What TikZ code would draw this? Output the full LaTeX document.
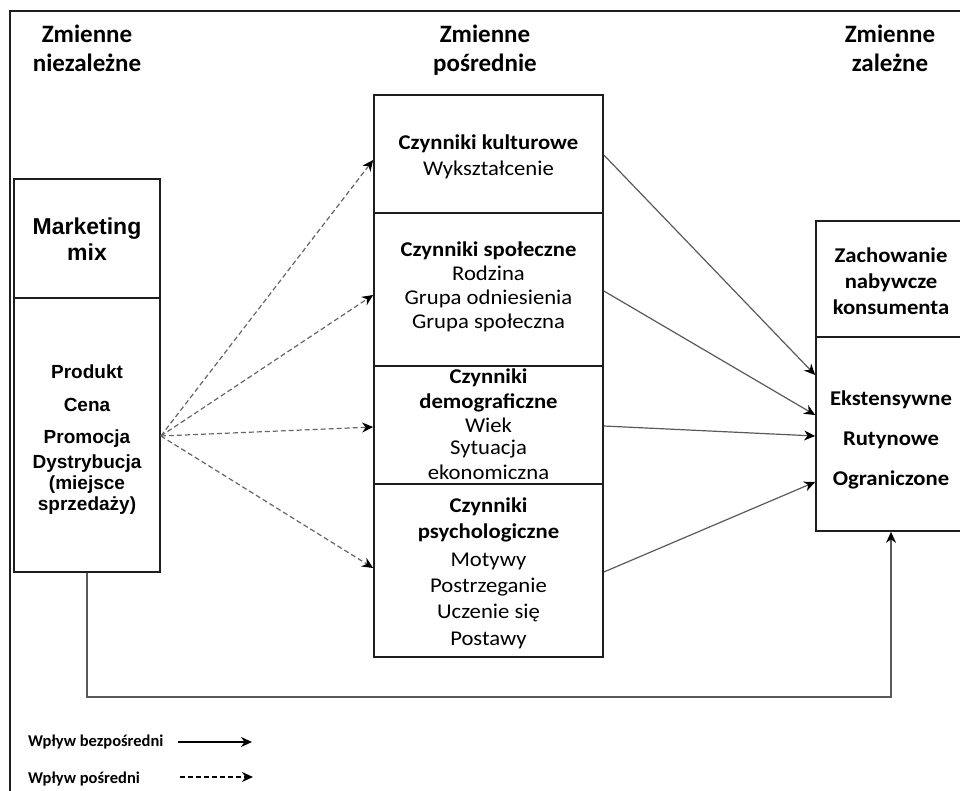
\documentclass[tikz,border=0pt]{standalone}
\usepackage{fontspec}
\setmainfont{Carlito}
\newfontfamily\calw[FakeStretch=1.08]{Carlito}
\newfontfamily\ari{Liberation Sans}
\usetikzlibrary{arrows.meta}
\definecolor{boxc}{HTML}{1E1E1E}
\definecolor{linec}{HTML}{5A5A5A}
\definecolor{dashc}{HTML}{666666}
\begin{document}
\begin{tikzpicture}[x=1pt,y=-1pt,
  box/.style={draw=boxc, line width=1.7pt, rectangle, inner sep=0pt, fill=white},
  tip/.style={-{Stealth[length=11pt,width=10pt,inset=3.5pt,color=black]}},
  conn/.style={draw=linec, line width=1.2pt, tip},
  dconn/.style={draw=dashc, line width=1.2pt, dash pattern=on 5pt off 3pt, tip},
  hd/.style={anchor=base, inner sep=0pt, font=\fontsize{25}{30}\selectfont\bfseries},
  tb/.style={anchor=base, inner sep=0pt, font=\calw\fontsize{21}{25}\selectfont\bfseries},
  tr/.style={anchor=base, inner sep=0pt, font=\calw\fontsize{21}{25}\selectfont},
  ab/.style={anchor=base, inner sep=0pt, font=\ari\fontsize{19}{23}\selectfont\bfseries},
  abig/.style={anchor=base, inner sep=0pt, font=\ari\fontsize{23}{27}\selectfont\bfseries},
  lg/.style={anchor=base west, inner sep=0pt, font=\fontsize{16.5}{19}\selectfont\bfseries}
]
\clip (0,0) rectangle (960,791);
\fill[white] (0,0) rectangle (960,791);
% outer frame
\draw[boxc, line width=1.6pt] (10,795) -- (10,11) -- (965,11);

% headers
\node[hd] (h1a) at (87,43) {Zmienne};
\node[hd] (h1b) at (87,72) {niezależne};
\node[hd] (h2a) at (485,43) {Zmienne};
\node[hd] (h2b) at (485,72) {pośrednie};
\node[hd] (h3a) at (890,43) {Zmienne};
\node[hd] (h3b) at (890,72) {zależne};

% boxes
\node[box, minimum width=146pt, minimum height=119pt] (mixtop) at (87,238.5) {};
\node[box, minimum width=146pt, minimum height=274pt] (mixlow) at (87,435) {};
\node[box, minimum width=229pt, minimum height=118pt] (kult) at (488.5,154) {};
\node[box, minimum width=229pt, minimum height=153pt] (spol) at (488.5,289.5) {};
\node[box, minimum width=229pt, minimum height=118pt] (demo) at (488.5,425) {};
\node[box, minimum width=229pt, minimum height=173pt] (psych) at (488.5,570.5) {};
\node[box, minimum width=150pt, minimum height=116pt] (behtop) at (891,279) {};
\node[box, minimum width=150pt, minimum height=194pt] (behlow) at (891,434) {};

% left box texts
\node[abig] (t1) at (87,235) {Marketing};
\node[abig] (t2) at (87,261) {mix};
\node[ab] (t3) at (87,378) {Produkt};
\node[ab] (t4) at (87,411) {Cena};
\node[ab] (t5) at (87,443) {Promocja};
\node[ab] (t6) at (87,468) {Dystrybucja};
\node[ab] (t7) at (87,489) {(miejsce};
\node[ab] (t8) at (87,510) {sprzedaży)};

% middle texts
\node[tb] (k1) at (488.5,150) {Czynniki kulturowe};
\node[tr] (k2) at (488.5,176) {Wykształcenie};
\node[tb] (s1) at (488.5,257) {Czynniki społeczne};
\node[tr] (s2) at (488.5,281) {Rodzina};
\node[tr] (s3) at (488.5,305) {Grupa odniesienia};
\node[tr] (s4) at (488.5,328) {Grupa społeczna};
\node[tb] (d1) at (488.5,383) {Czynniki};
\node[tb] (d2) at (488.5,408) {demograficzne};
\node[tr] (d3) at (488.5,432) {Wiek};
\node[tr] (d4) at (488.5,454) {Sytuacja};
\node[tr] (d5) at (488.5,479) {ekonomiczna};
\node[tb] (p1) at (488.5,512) {Czynniki};
\node[tb] (p2) at (488.5,538) {psychologiczne};
\node[tr] (p3) at (488.5,566) {Motywy};
\node[tr] (p4) at (488.5,592) {Postrzeganie};
\node[tr] (p5) at (488.5,618) {Uczenie się};
\node[tr] (p6) at (488.5,645) {Postawy};

% right texts
\node[tb] (r1) at (891,263) {Zachowanie};
\node[tb] (r2) at (891,288) {nabywcze};
\node[tb] (r3) at (891,315) {konsumenta};
\node[tb] (r4) at (891,405) {Ekstensywne};
\node[tb] (r5) at (891,445) {Rutynowe};
\node[tb] (r6) at (891,485) {Ograniczone};

% indirect (dashed) arrows
\draw[dconn] ([yshift=-1pt]mixlow.east) -- ([yshift=-6pt]kult.west);
\draw[dconn] ([yshift=-1pt]mixlow.east) -- ([yshift=-5.5pt]spol.west);
\draw[dconn] ([yshift=-1pt]mixlow.east) -- ([yshift=-2pt]demo.west);
\draw[dconn] ([yshift=-1pt]mixlow.east) -- ([yshift=2.5pt]psych.west);

% direct arrows
\draw[conn] ([yshift=-1pt]kult.east) -- ([yshift=59pt]behlow.west);
\draw[conn] ([yshift=-1.5pt]spol.east) -- ([yshift=19pt]behlow.west);
\draw[conn] ([yshift=-1pt]demo.east) -- ([yshift=-2pt]behlow.west);
\draw[conn] ([yshift=-1.5pt]psych.east) -- ([yshift=-48pt]behlow.west);

% feedback
\coordinate (fb) at (0,697);
\draw[conn] (mixlow.south) -- (mixlow.south |- fb) -| (behlow.south);

% legend
\node[lg] (lg1) at (28,746) {Wpływ bezpośredni};
\node[lg] (lg2) at (28,783) {Wpływ pośredni};
\coordinate (la1) at (178,742);
\coordinate (la2) at (252,742);
\coordinate (lb1) at (180,777);
\coordinate (lb2) at (253,777);
\draw[black, line width=1.3pt, tip] (la1) -- (la2);
\draw[black, line width=1.3pt, dash pattern=on 5pt off 3pt, tip] (lb1) -- (lb2);
\end{tikzpicture}
\end{document}
